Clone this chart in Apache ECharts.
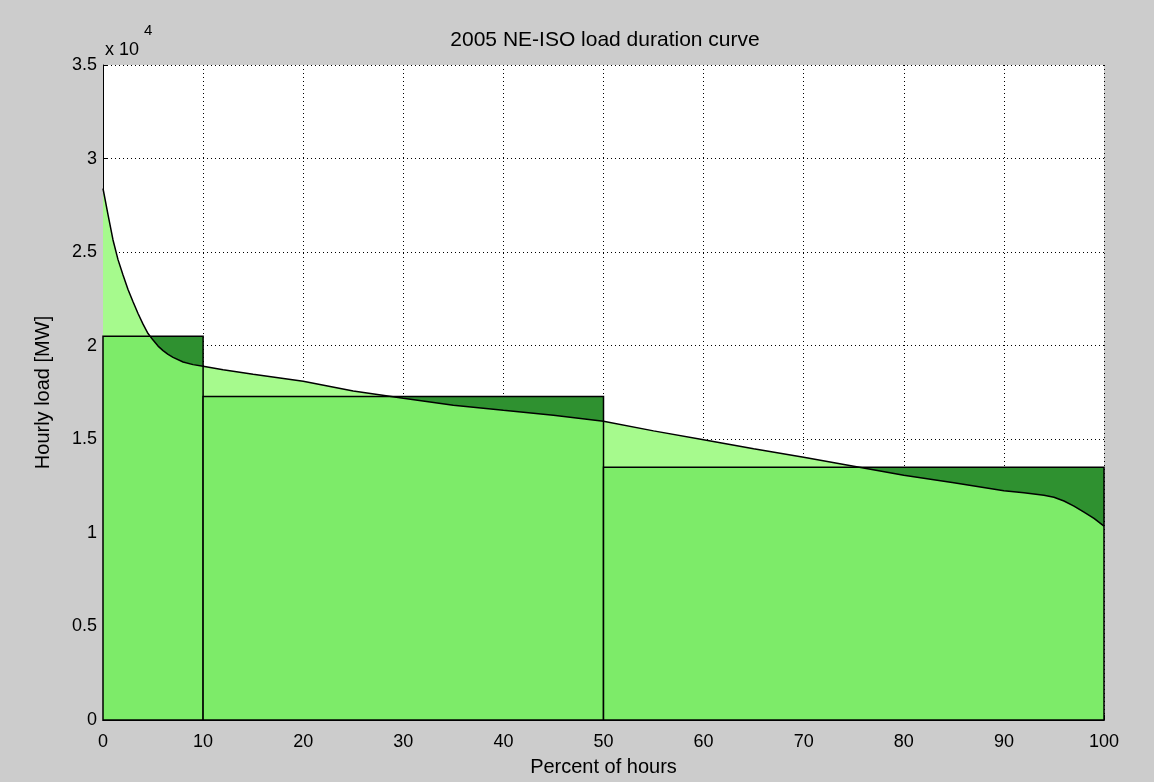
<!DOCTYPE html>
<html>
<head>
<meta charset="utf-8">
<title>2005 NE-ISO load duration curve</title>
<script src="https://cdn.jsdelivr.net/npm/echarts@6/dist/echarts.min.js"></script>
<style>
  html, body { margin: 0; padding: 0; background: #cccccc; }
  #chart { width: 1154px; height: 782px; }
</style>
</head>
<body>
<div id="chart"></div>
<script>
// Hourly load sorted in descending order: percent of hours vs load (MW)
const hoursPct = [0, 0.5, 1, 1.5, 2, 2.5, 3, 3.5, 4, 4.5, 5, 5.5, 6, 6.5, 7, 8, 9, 10,
  12, 15, 20, 25, 30, 35, 40, 45, 50, 55, 60, 65, 70, 75, 80, 85, 90, 92, 94, 95, 96, 97, 98, 99, 100];
const loadMW = [28400, 27000, 25650, 24600, 23780, 23000, 22350, 21720, 21150, 20650, 20300, 19980, 19740, 19540, 19380, 19130, 18990, 18900,
  18720, 18480, 18100, 17580, 17190, 16820, 16550, 16290, 15960, 15450, 14970, 14490, 14040, 13560, 13080, 12680, 12250, 12140, 12010, 11900, 11700, 11430, 11110, 10770, 10360];

// Three-block step approximation of the curve
const blockEdges = [0, 10, 50, 100];
const blockLoadMW = [20500, 17280, 13510];

// Axis ticks
const xTicks = [0, 10, 20, 30, 40, 50, 60, 70, 80, 90, 100];
const yTickLabels = ['0', '0.5', '1', '1.5', '2', '2.5', '3', '3.5'];

const FONT = 'Liberation Sans';
const LIGHT = '#a6fa8d';
const MID = '#7deb69';
const DARK = '#2f9130';

const curveData = hoursPct.map((x, i) => [x, loadMW[i]]);
const blockData = blockLoadMW.map((lv, i) => [blockEdges[i], blockEdges[i + 1], lv]);

// Outline of min(curve, level) over [x0, x1], including crossing points
function underBoth(x0, x1, level) {
  const pts = [[x0, 0]];
  const idx = [];
  hoursPct.forEach((x, i) => { if (x >= x0 && x <= x1) idx.push(i); });
  for (let k = 0; k < idx.length; k++) {
    const i = idx[k];
    const xa = hoursPct[i], ya = loadMW[i];
    pts.push([xa, Math.min(ya, level)]);
    if (k < idx.length - 1) {
      const xb = hoursPct[i + 1], yb = loadMW[i + 1];
      if ((ya - level) * (yb - level) < 0) {
        pts.push([xa + (level - ya) / (yb - ya) * (xb - xa), level]);
      }
    }
  }
  pts.push([x1, 0]);
  return pts;
}

const chart = echarts.init(document.getElementById('chart'), null, { renderer: 'canvas' });

const dotted = { color: '#000', width: 1, type: [1, 3] };

chart.setOption({
  animation: false,
  backgroundColor: '#cccccc',
  textStyle: { fontFamily: FONT },
  grid: {
    left: 103, right: 50, top: 65, bottom: 61,
    show: true, backgroundColor: '#ffffff', borderWidth: 0
  },
  graphic: [
    { type: 'text', style: { text: '2005 NE-ISO load duration curve', font: '21px "Liberation Sans"', fill: '#000', x: 605, y: 40, textAlign: 'center', textVerticalAlign: 'middle' } },
    { type: 'text', style: { text: 'x 10', font: '18px "Liberation Sans"', fill: '#000', x: 105, y: 50, textVerticalAlign: 'middle' } },
    { type: 'text', style: { text: '4', font: '15px "Liberation Sans"', fill: '#000', x: 144, y: 31, textVerticalAlign: 'middle' } }
  ],
  xAxis: {
    type: 'value', min: 0, max: 100, interval: 10,
    name: 'Percent of hours', nameLocation: 'middle', nameGap: 37,
    nameTextStyle: { fontFamily: FONT, fontSize: 20, color: '#000' },
    axisLine: { show: true, onZero: false, lineStyle: { color: '#000', width: 1 } },
    axisTick: { show: true, inside: true, length: 5, lineStyle: { color: '#000' } },
    axisLabel: { fontFamily: FONT, fontSize: 18, color: '#000', margin: 13,
      formatter: v => String(xTicks[Math.round(v / 10)]) },
    splitLine: { show: true, lineStyle: dotted }
  },
  yAxis: {
    type: 'value', min: 0, max: 35000, interval: 5000,
    name: 'Hourly load [MW]', nameLocation: 'middle', nameGap: 50,
    nameTextStyle: { fontFamily: FONT, fontSize: 20, color: '#000' },
    axisLine: { show: true, onZero: false, lineStyle: { color: '#000', width: 1 } },
    axisTick: { show: true, inside: true, length: 5, lineStyle: { color: '#000' } },
    axisLabel: { fontFamily: FONT, fontSize: 18, color: '#000', margin: 6,
      formatter: v => yTickLabels[Math.round(v / 5000)] },
    splitLine: { show: true, lineStyle: dotted }
  },
  series: [
    {
      // area under the duration curve
      type: 'line', data: curveData, z: 1, showSymbol: false, silent: true,
      lineStyle: { width: 0, opacity: 0 },
      areaStyle: { color: LIGHT, opacity: 1 }
    },
    {
      // step blocks: dark where the block exceeds the curve, mid-green under both
      type: 'custom', data: blockData, z: 2, silent: true,
      encode: { x: [0, 1], y: 2 },
      renderItem: (params, api) => {
        const x0 = api.value(0), x1 = api.value(1), lv = api.value(2);
        const pTop = api.coord([x0, lv]);
        const pBot = api.coord([x1, 0]);
        const rect = { x: pTop[0], y: pTop[1], width: pBot[0] - pTop[0], height: pBot[1] - pTop[1] };
        const poly = underBoth(x0, x1, lv).map(p => api.coord(p));
        return {
          type: 'group',
          children: [
            { type: 'rect', shape: rect, style: { fill: DARK } },
            { type: 'polygon', shape: { points: poly }, style: { fill: MID } },
            { type: 'rect', shape: rect, style: { fill: null, stroke: '#000', lineWidth: 1.5 } }
          ]
        };
      }
    },
    {
      // duration curve outline
      type: 'line', data: curveData, z: 3, showSymbol: false, silent: true,
      lineStyle: { color: '#000', width: 1.5 }
    }
  ]
});
</script>
</body>
</html>
